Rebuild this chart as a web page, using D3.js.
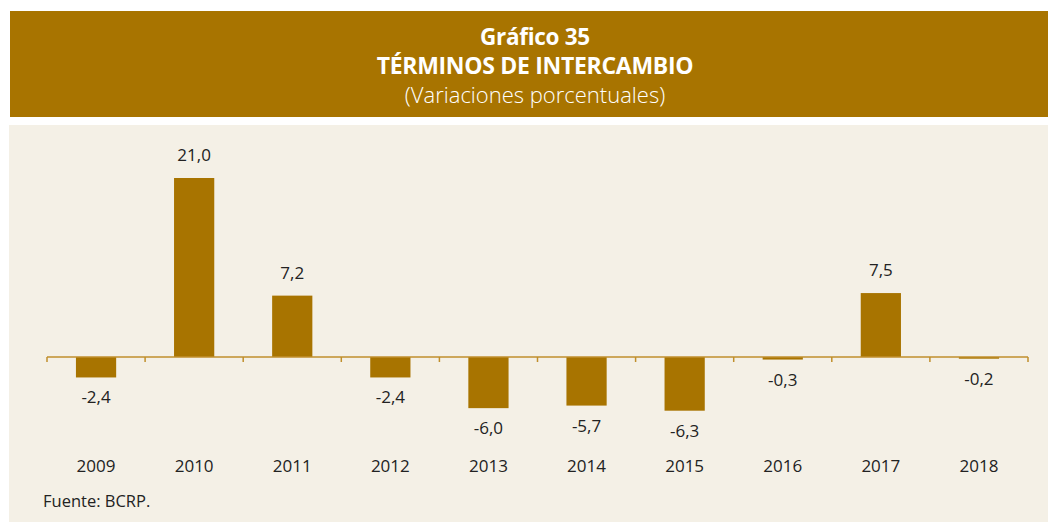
<!DOCTYPE html>
<html>
<head>
<meta charset="utf-8">
<script src="https://cdn.jsdelivr.net/npm/d3@7"></script>
<style>
  body { margin: 0; background: #fff; }
  svg { display: block; font-family: "Open Sans", "Noto Sans", sans-serif; }
</style>
</head>
<body>
<div class="chart"></div>
<script>
const years = ["2009", "2010", "2011", "2012", "2013", "2014", "2015", "2016", "2017", "2018"];
const values = [-2.4, 21.0, 7.2, -2.4, -6.0, -5.7, -6.3, -0.3, 7.5, -0.2];
const titleLines = ["Gráfico 35", "TÉRMINOS DE INTERCAMBIO", "(Variaciones porcentuales)"];
const source = "Fuente: BCRP.";

const width = 1048, height = 522;
const brown = "#a87400";
const axisColor = "#c08f2c";

const svg = d3.select(".chart").append("svg")
    .attr("width", width)
    .attr("height", height);

// header band
svg.append("rect")
    .attr("x", 10).attr("y", 11)
    .attr("width", width - 10).attr("height", 106)
    .attr("fill", brown);

// title lines, one text with tspans so they read as one block
const title = svg.append("text")
    .attr("text-anchor", "middle")
    .attr("fill", "#fff");
title.append("tspan")
    .attr("x", 535).attr("y", 45)
    .attr("font-size", 22.5)
    .attr("font-weight", "bold")
    .attr("letter-spacing", -0.3)
    .text(titleLines[0]);
title.append("tspan")
    .attr("x", 535).attr("y", 74)
    .attr("font-size", 23)
    .attr("font-weight", "bold")
    .attr("letter-spacing", -0.3)
    .text(titleLines[1]);
title.append("tspan")
    .attr("x", 535).attr("y", 103)
    .attr("font-size", 22)
    .attr("font-weight", 300)
    .text(titleLines[2]);

// panel background
svg.append("rect")
    .attr("x", 9).attr("y", 125)
    .attr("width", width - 9).attr("height", height - 125)
    .attr("fill", "#f4f0e6");

const x = d3.scaleBand()
    .domain(years)
    .range([47, 1028])
    .paddingInner(0.59)
    .paddingOuter(0.295);

const y = d3.scaleLinear()
    .domain([-6.3, 21])
    .range([410.7, 178]);

// bars
svg.append("g")
    .selectAll("rect")
    .data(years)
    .join("rect")
    .attr("x", d => x(d))
    .attr("width", x.bandwidth())
    .attr("y", (d, i) => y(Math.max(0, values[i])))
    .attr("height", (d, i) => Math.abs(y(values[i]) - y(0)))
    .attr("fill", brown);

// zero axis with ticks between categories
const step = x.step();
const axisG = svg.append("g");
axisG.append("line")
    .attr("x1", 47).attr("x2", 1028)
    .attr("y1", y(0)).attr("y2", y(0))
    .attr("stroke", axisColor)
    .attr("stroke-width", 1.5);
axisG.selectAll(".tick")
    .data(d3.range(years.length + 1))
    .join("line")
    .attr("x1", i => 47 + i * step)
    .attr("x2", i => 47 + i * step)
    .attr("y1", y(0))
    .attr("y2", y(0) + 5)
    .attr("stroke", axisColor)
    .attr("stroke-width", 1.5);

const fmt = v => d3.format(".1f")(v).replace(".", ",").replace("−", "-");

// value labels
svg.append("g")
    .selectAll("text")
    .data(years)
    .join("text")
    .attr("x", d => x(d) + x.bandwidth() / 2)
    .attr("y", (d, i) => values[i] >= 0 ? y(values[i]) - 17 : y(values[i]) + 26)
    .attr("text-anchor", "middle")
    .attr("font-size", 17)
    .attr("fill", "#222")
    .text((d, i) => fmt(values[i]));

// year labels
svg.append("g")
    .selectAll("text")
    .data(years)
    .join("text")
    .attr("x", d => x(d) + x.bandwidth() / 2)
    .attr("y", 472)
    .attr("text-anchor", "middle")
    .attr("font-size", 17)
    .attr("fill", "#222")
    .text(d => d);

svg.append("text")
    .attr("x", 43).attr("y", 507)
    .attr("font-size", 16.5)
    .attr("fill", "#222")
    .text(source);
</script>
</body>
</html>
